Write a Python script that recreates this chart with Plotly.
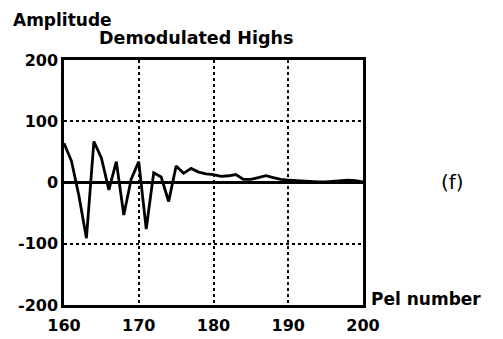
import plotly.graph_objects as go

pel = list(range(160, 201))
amplitude = [64, 35, -22, -91, 67, 40, -12, 34, -53, 6, 34, -76, 16, 9, -31, 27,
             15, 23, 17, 14, 13, 10, 11, 13, 5, 5, 8, 11, 8, 5, 4, 3, 2, 2, 1, 1,
             2, 3, 4, 3, 1]
x_ticks = [160, 170, 180, 190, 200]
y_ticks = [-200, -100, 0, 100, 200]
y_tick_text = ["-200", "-100", "0", "100", "200"]

W, H = 503, 339
L, R, T, B = 64, 363, 60, 305

def px(xp):
    return (xp - L) / (R - L)

def py(yp):
    return (B - yp) / (B - T)

FONT = "DejaVu Sans"

fig = go.Figure()
fig.add_trace(go.Scatter(x=pel, y=amplitude, mode="lines",
                         line=dict(color="black", width=2.8), showlegend=False))

fig.update_layout(
    width=W, height=H,
    margin=dict(l=L, r=W - R, t=T, b=H - B, autoexpand=False),
    paper_bgcolor="white", plot_bgcolor="white",
    font=dict(family=FONT, color="black", size=15, weight=700),
    xaxis=dict(range=[160, 200], tickvals=x_ticks, ticks="", automargin=False,
               showline=True, mirror=True, linecolor="black", linewidth=2.5,
               showgrid=True, gridcolor="black", griddash="dot", gridwidth=1.8,
               zeroline=False, ticklabelstandoff=4,
               tickfont=dict(size=16, family=FONT, weight=700)),
    yaxis=dict(range=[-200, 200], tickvals=y_ticks, ticktext=y_tick_text, ticks="",
               automargin=False,
               showline=True, mirror=True, linecolor="black", linewidth=2.5,
               showgrid=True, gridcolor="black", griddash="dot", gridwidth=1.8,
               zeroline=True, zerolinecolor="black", zerolinewidth=2.5,
               tickfont=dict(size=16, family=FONT, weight=700)),
    annotations=[
        dict(text="Amplitude", xref="paper", yref="paper", x=px(11), y=py(20),
             xanchor="left", yanchor="middle", showarrow=False,
             font=dict(size=17, family=FONT, weight=700)),
        dict(text="Demodulated Highs", xref="paper", yref="paper", x=px(196), y=py(38),
             xanchor="center", yanchor="middle", showarrow=False,
             font=dict(size=17.5, family=FONT, weight=700)),
        dict(text="Pel number", xref="paper", yref="paper", x=px(369), y=py(299),
             xanchor="left", yanchor="middle", showarrow=False,
             font=dict(size=17, family=FONT, weight=700)),
        dict(text="(f)", xref="paper", yref="paper", x=px(452), y=py(182),
             xanchor="center", yanchor="middle", showarrow=False,
             font=dict(size=20, family=FONT, weight=400)),
    ],
)

fig.write_html("out.html")
